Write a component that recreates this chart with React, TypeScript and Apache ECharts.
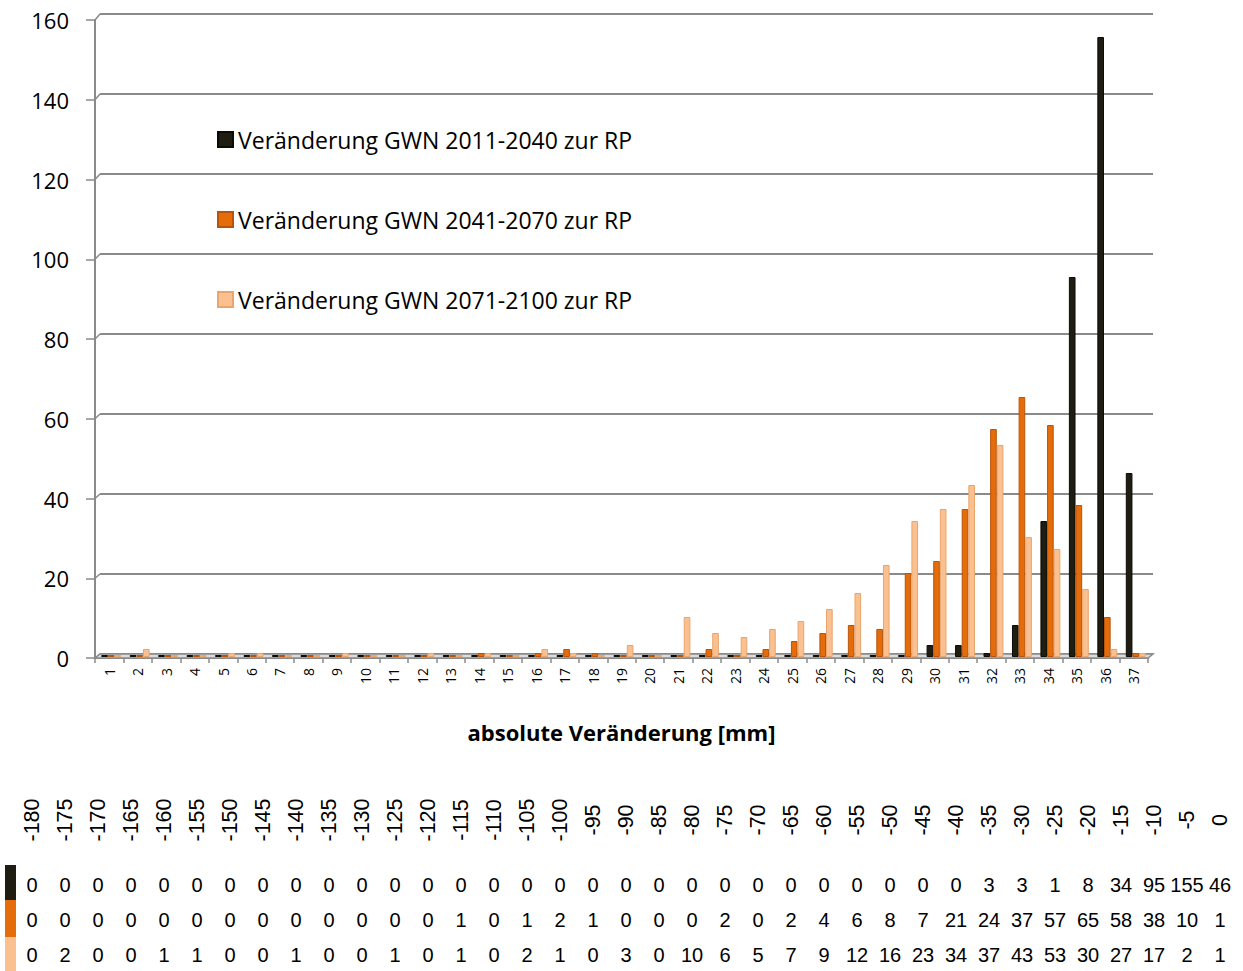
import React, { useEffect, useRef } from "react";
import * as echarts from "echarts";

const categories = ["1","2","3","4","5","6","7","8","9","10","11","12","13","14","15","16","17","18","19","20","21","22","23","24","25","26","27","28","29","30","31","32","33","34","35","36","37"];
const classLabels = ["-180","-175","-170","-165","-160","-155","-150","-145","-140","-135","-130","-125","-120","-115","-110","-105","-100","-95","-90","-85","-80","-75","-70","-65","-60","-55","-50","-45","-40","-35","-30","-25","-20","-15","-10","-5","0"];
const seriesNames = ["Veränderung GWN 2011-2040 zur RP", "Veränderung GWN 2041-2070 zur RP", "Veränderung GWN 2071-2100 zur RP"];
const values2011 = [0,0,0,0,0,0,0,0,0,0,0,0,0,0,0,0,0,0,0,0,0,0,0,0,0,0,0,0,0,3,3,1,8,34,95,155,46];
const values2041 = [0,0,0,0,0,0,0,0,0,0,0,0,0,1,0,1,2,1,0,0,0,2,0,2,4,6,8,7,21,24,37,57,65,58,38,10,1];
const values2071 = [0,2,0,0,1,1,0,0,1,0,0,1,0,1,0,2,1,0,3,0,10,6,5,7,9,12,16,23,34,37,43,53,30,27,17,2,1];
const yMin = 0;
const yMax = 160;
const yInterval = 20;
const yTicks = [0, 20, 40, 60, 80, 100, 120, 140, 160];

const colors = ["#1f1c12", "#e46c0a", "#fac090"];
const borders = ["#0d0b06", "#b8540a", "#e9a56e"];

const W = 1243;
const H = 971;
const backLeft = 100;
const backTop = 14;
const plotW = 1053;
const backH = 640;
const barLeft = 97;
const barTop = 17;
const frontLeft = 95;
const frontTop = 20;
const frontH = 638;
const gridColor = "#8a8a8a";
const chartFont = "'Open Sans', 'Noto Sans', sans-serif";
const tableFont = "'Liberation Sans', Arial, sans-serif";

export default function App() {
  const ref = useRef<HTMLDivElement>(null);
  useEffect(() => {
    if (!ref.current) return;
    const chart = echarts.init(ref.current, undefined, { renderer: "svg" });
    const allValues = [values2011, values2041, values2071];
    chart.setOption({
      animation: false,
      backgroundColor: "#ffffff",
      textStyle: { fontFamily: chartFont },
      legend: {
        data: seriesNames,
        orient: "vertical",
        left: 217,
        top: 128,
        padding: 0,
        itemWidth: 15,
        itemHeight: 15,
        itemGap: 57,
        icon: "rect",
        textStyle: { fontSize: 23, color: "#000", fontFamily: chartFont },
      },
      grid: [
        { left: backLeft, top: backTop, width: plotW, height: backH, containLabel: false },
        { left: frontLeft, top: frontTop, width: plotW, height: frontH, containLabel: false },
        { left: barLeft, top: barTop, width: plotW, height: backH, containLabel: false },
      ],
      xAxis: [
        {
          type: "category",
          gridIndex: 0,
          data: categories,
          axisLine: { show: false },
          axisTick: { show: false },
          axisLabel: { show: false },
        },
        {
          type: "category",
          gridIndex: 1,
          data: categories,
          axisLine: { show: true, lineStyle: { color: gridColor, width: 2 } },
          axisTick: { show: true, length: 5, interval: 0, lineStyle: { color: gridColor, width: 1.5 } },
          axisLabel: { rotate: 90, fontSize: 14, color: "#000", margin: 10, interval: 0, fontFamily: chartFont },
          name: "absolute Veränderung [mm]",
          nameLocation: "middle",
          nameGap: 63,
          nameTextStyle: { fontSize: 22, fontWeight: "bold", color: "#000", fontFamily: chartFont },
        },
        {
          type: "category",
          gridIndex: 2,
          data: categories,
          axisLine: { show: false },
          axisTick: { show: false },
          axisLabel: { show: false },
        },
      ],
      yAxis: [
        {
          type: "value",
          gridIndex: 0,
          min: yMin,
          max: yMax,
          interval: yInterval,
          axisLine: { show: false },
          axisTick: { show: false },
          axisLabel: { show: false },
          splitLine: { show: true, lineStyle: { color: gridColor, width: 2 } },
        },
        {
          type: "value",
          gridIndex: 1,
          min: yMin,
          max: yMax,
          interval: yInterval,
          axisLine: { show: true, lineStyle: { color: gridColor, width: 2 } },
          axisTick: { show: true, length: 9, lineStyle: { color: gridColor, width: 1.5 } },
          axisLabel: { fontSize: 22, color: "#000", margin: 26, fontFamily: chartFont },
          splitLine: { show: false },
        },
        {
          type: "value",
          gridIndex: 2,
          min: yMin,
          max: yMax,
          interval: yInterval,
          axisLine: { show: false },
          axisTick: { show: false },
          axisLabel: { show: false },
          splitLine: { show: false },
        },
      ],
      series: seriesNames.map((name, i) => ({
        name,
        type: "bar",
        xAxisIndex: 2,
        yAxisIndex: 2,
        data: allValues[i],
        barGap: "0%",
        barCategoryGap: "30%",
        barMinHeight: 2,
        itemStyle: { color: colors[i], borderColor: borders[i], borderWidth: 1 },
        z: 5,
      })),
    });

    // decorations computed from the axes (3D floor + wall connectors) and the data table
    const g: any[] = [];
    yTicks.forEach((v) => {
      const yb = chart.convertToPixel({ yAxisIndex: 0 }, v) as number;
      const yf = chart.convertToPixel({ yAxisIndex: 1 }, v) as number;
      g.push({
        type: "line",
        shape: { x1: frontLeft, y1: yf, x2: backLeft, y2: yb },
        style: { stroke: gridColor, lineWidth: 1.5 },
        z: 1,
      });
    });
    const yb0 = chart.convertToPixel({ yAxisIndex: 0 }, 0) as number;
    const yf0 = chart.convertToPixel({ yAxisIndex: 1 }, 0) as number;
    g.push({
      type: "polygon",
      shape: {
        points: [
          [frontLeft, yf0],
          [backLeft, yb0],
          [backLeft + plotW, yb0],
          [frontLeft + plotW, yf0],
        ],
      },
      style: { fill: "#dcdcdc", stroke: gridColor, lineWidth: 1.5 },
      z: 2,
    });

    const colX0 = 32;
    const colStep = 33;
    classLabels.forEach((lab, i) => {
      g.push({
        type: "text",
        x: colX0 + colStep * i,
        y: 820,
        rotation: Math.PI / 2,
        style: { text: lab, fontSize: 21.5, fontFamily: tableFont, fill: "#000", align: "center", verticalAlign: "middle" },
      });
    });
    const rowY = [885, 920, 955];
    const swatchTop = [865, 900, 937];
    const swatchBottom = [900, 937, 971];
    allValues.forEach((vals, r) => {
      g.push({
        type: "rect",
        shape: { x: 5, y: swatchTop[r], width: 11, height: swatchBottom[r] - swatchTop[r] },
        style: { fill: colors[r] },
      });
      vals.forEach((v, i) => {
        g.push({
          type: "text",
          x: colX0 + colStep * i,
          y: rowY[r],
          style: { text: String(v), fontSize: 20, fontFamily: tableFont, fill: "#000", align: "center", verticalAlign: "middle" },
        });
      });
    });
    chart.setOption({ graphic: g });

    return () => chart.dispose();
  }, []);
  return <div ref={ref} style={{ position: "absolute", left: 0, top: 0, width: W, height: H }} />;
}
